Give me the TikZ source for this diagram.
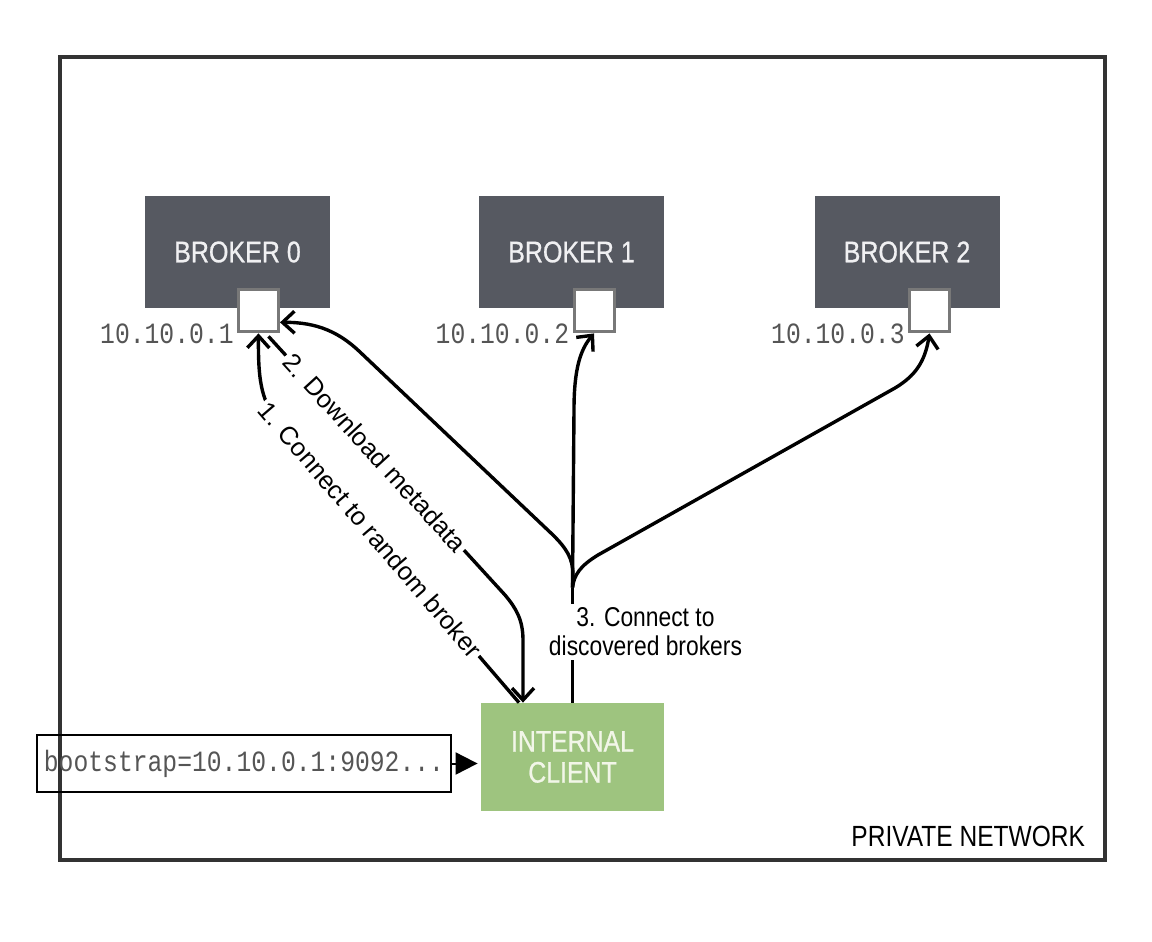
\documentclass[tikz,border=0pt]{standalone}
\usepackage{fontspec}
\setmainfont{Liberation Sans}
\newfontfamily\narrowsf{Liberation Sans}[FakeStretch=0.84]
\newfontfamily\boxsf{Liberation Sans}[FakeStretch=0.84,FakeBold=0.8]
\newfontfamily\ipfont{Liberation Mono}[FakeStretch=0.84]
\usetikzlibrary{arrows.meta,calc,positioning}
\definecolor{brokergray}{RGB}{86,89,97}
\definecolor{brokertext}{RGB}{240,240,242}
\definecolor{portgray}{RGB}{120,120,120}
\definecolor{clientgreen}{RGB}{158,196,127}
\definecolor{clienttext}{RGB}{242,246,232}
\definecolor{ipgray}{RGB}{85,85,85}
\definecolor{framegray}{RGB}{51,51,51}
\tikzset{
  broker/.style={fill=brokergray, minimum width=92.5pt, minimum height=56pt, inner sep=0pt,
    text=brokertext, font=\boxsf\fontsize{14.9pt}{17pt}\selectfont},
  port/.style={draw=portgray, line width=1.5pt, fill=white, minimum width=20pt,
    minimum height=21pt, inner sep=0pt},
  ip/.style={font=\ipfont\fontsize{14.7pt}{17pt}\selectfont, text=ipgray, inner sep=1.5pt},
  client/.style={fill=clientgreen, minimum width=91.5pt, minimum height=54pt, align=center,
    text=clienttext, font=\boxsf\fontsize{14.8pt}{15.5pt}\selectfont},
  flow/.style={line width=1.7pt, -{Straight Barb[length=6pt,width=11pt]}},
  lbl/.style={font=\fontsize{12.75pt}{15pt}\selectfont, fill=white, inner sep=1.5pt, sloped},
}
\begin{document}
\begin{tikzpicture}[x=0.5pt, y=-0.5pt]
\useasboundingbox (0,0) rectangle (1152,942);
\draw[framegray, line width=2pt] (59.5,57) rectangle (1105,860);

% brokers and their ports
\node[broker] (b0) at (237.5,252) {BROKER 0};
\node[broker] (b1) at (571.5,252) {BROKER 1};
\node[broker] (b2) at (907,252) {BROKER 2};
\node[port] (p0) at ($(b0.south)+(21,2.5)$) {};
\node[port] (p1) at ($(b1.south)+(22.5,2.5)$) {};
\node[port] (p2) at ($(b2.south)+(22.5,2.5)$) {};
\node[ip, left=0pt of p0.south west] (ip0) {10.10.0.1};
\node[ip, left=0pt of p1.south west] (ip1) {10.10.0.2};
\node[ip, left=0pt of p2.south west] (ip2) {10.10.0.3};

% client side
\node[client] (cl) at (572.5,757) {INTERNAL\\CLIENT};
\node[draw, line width=1.1pt, minimum width=207pt, minimum height=28.5pt, inner sep=0pt,
  font=\ipfont\fontsize{14.7pt}{17pt}\selectfont, text=ipgray] (boot) at (244,763.5)
  {bootstrap=10.10.0.1:9092...};
\draw[line width=1pt, -{Triangle[length=11pt,width=11pt]}, shorten >=1.5pt]
  (boot.east) -- (boot.east -| cl.west);
\node[font=\narrowsf\fontsize{14.6pt}{17pt}\selectfont, anchor=east] (pnet) at (1092,836.5)
  {PRIVATE NETWORK};

% 1. and 2.
\draw[flow] ($(cl.north)+(-53.5,0)$) -- node[lbl, pos=0.63]{1. Connect to random broker} (283,428)
  .. controls (262,404) and (258,385) .. (p0.south);
\draw[flow] ($(p0.south)+(10,3)$) -- node[lbl, pos=0.45]{2. Download metadata} (505,595)
  .. controls (516,608) and (523,620) .. (523,640) -- ($(cl.north)+(-49.5,0)$);

% 3. fan out to all brokers
\coordinate (fork) at ($(cl.north)+(0,-115)$);
\draw[line width=1.7pt] (cl.north) -- (fork);
\draw[flow] (fork) -- (573,575) .. controls (573,558) and (566,548) .. (553,535) -- (360,352)
  .. controls (340,333) and (318,322) .. ($(p0.east)+(0,11.5)$);
\draw[flow] (fork) -- (574,410) .. controls (574,370) and (580,350) .. (p1.south);
\draw[flow] (fork) .. controls (574,575) and (580,566) .. (598,555) -- (895,388)
  .. controls (915,376) and (925,362) .. (p2.south);
\node[fill=white, align=center, inner sep=2pt, font=\narrowsf\fontsize{13.6pt}{14.5pt}\selectfont]
  (n3) at (645.5,632) {3. Connect to\\discovered brokers};
\end{tikzpicture}
\end{document}
